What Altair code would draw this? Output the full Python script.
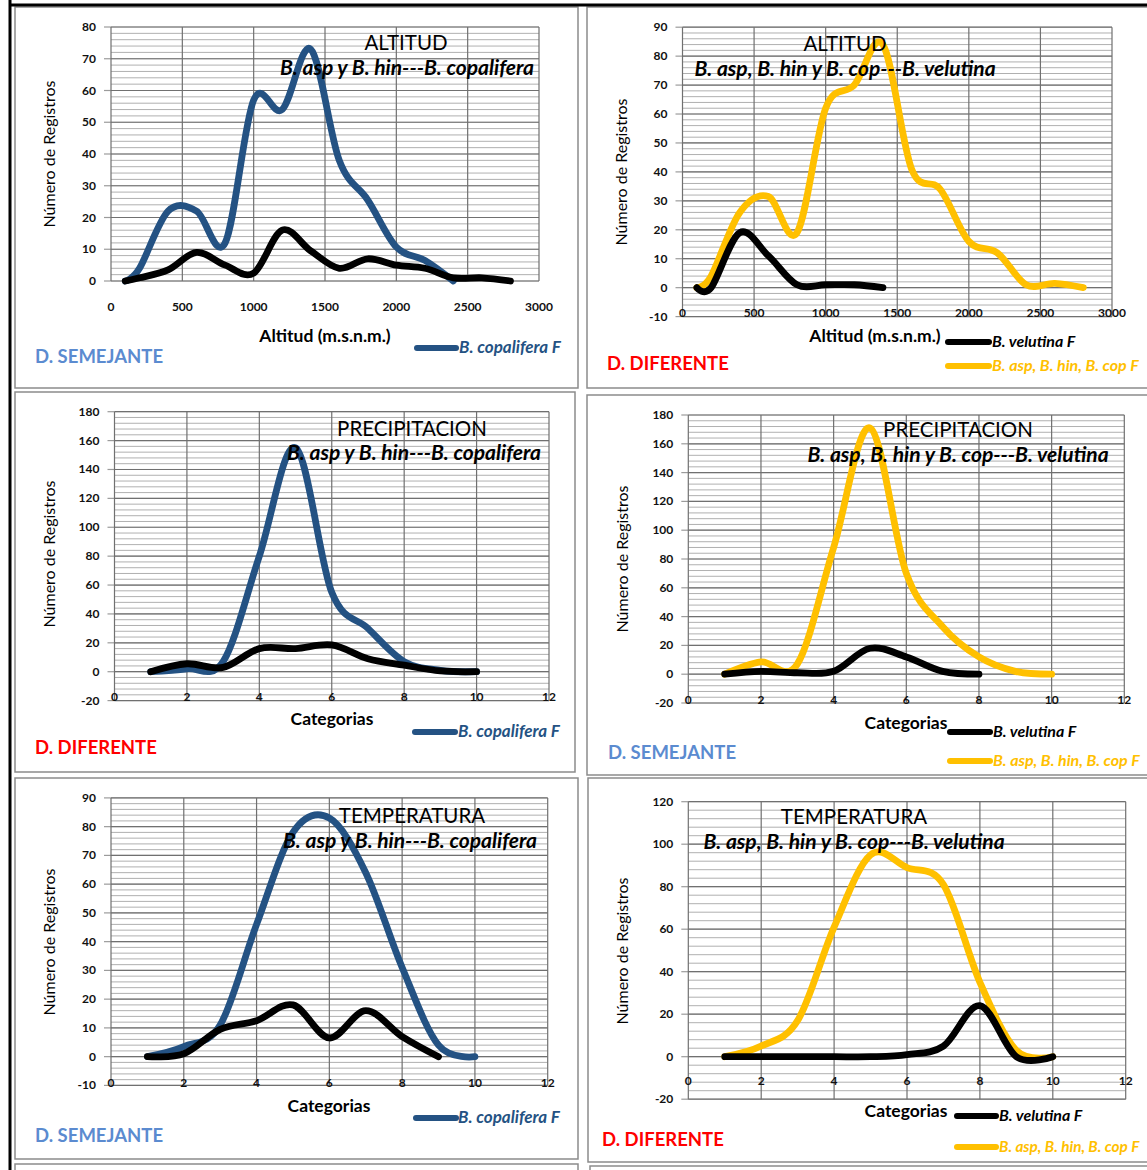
import altair as alt
import pandas as pd

# ---------------- data ----------------
alt_x = [100, 200, 400, 600, 800, 1000, 1200, 1400, 1600, 1800, 2000, 2200, 2400, 2600, 2800]
cat_x = [1, 2, 3, 4, 5, 6, 7, 8, 9, 10]

# ALTITUD  (B. asp y B. hin --- B. copalifera)
p1_cop = [0, 4, 22, 22, 12, 57, 54, 73, 38, 25.5, 10.7, 6.5, 0]          # 100..2400
p1_asp = [0, 1, 3.5, 9, 5, 2.5, 16, 9.5, 4, 7, 5, 4, 1, 1, 0]            # 100..2800
# ALTITUD  (B. asp, B. hin y B. cop --- B. velutina)
p2_all = [0, 4, 26, 31.5, 19, 62, 70, 84, 41, 34, 16, 12, 1, 1.5, 0]     # 100..2800
p2_vel = [0, 0, 19, 11, 1, 1, 1, 0]                                      # 100..1400
# PRECIPITACION
p3_cop = [0, 2, 7, 80, 155, 55, 30, 7, 1, 0]
p3_asp = [0, 5.5, 3, 16, 16, 18.5, 9, 4.5, 0.5, 0]
p4_all = [0, 8.5, 7, 88, 171, 70, 33, 12, 2, 0]
p4_vel = [0, 2, 1, 2, 18, 12, 2, 0]                                      # 1..8
# TEMPERATURA
p5_cop = [0, 3.5, 11, 46, 78, 83, 64, 31, 4, 0]
p5_asp = [0, 1, 9.5, 12.5, 18, 6.5, 16, 7, 0]                            # 1..9
p6_all = [0, 5, 17, 61, 95, 89, 81, 35, 3, 0]
p6_vel = [0, 0, 0, 0, 0, 1, 5, 24, 0, 0]

alt_ticks = [0, 500, 1000, 1500, 2000, 2500, 3000]
cat_ticks = [0, 2, 4, 6, 8, 10, 12]
y_p1 = [0, 10, 20, 30, 40, 50, 60, 70, 80]
y_p2 = [-10, 0, 10, 20, 30, 40, 50, 60, 70, 80, 90]
y_p3 = [-20, 0, 20, 40, 60, 80, 100, 120, 140, 160, 180]
y_p5 = [-10, 0, 10, 20, 30, 40, 50, 60, 70, 80, 90]
y_p6 = [-20, 0, 20, 40, 60, 80, 100, 120]

BLUE = "#245283"
YELLOW = "#FFC000"
BLACK = "#000000"
FONT = "Lato"
ONE = pd.DataFrame({"a": [0]})


def panel(xticks, yticks, xpx, ypx, label_y, series):
    xdom = [xticks[0], xticks[-1]]
    ydom = [yticks[0], yticks[-1]]
    xs = alt.Scale(domain=xdom, range=xpx, nice=False, zero=False)
    ys = alt.Scale(domain=ydom, range=ypx, nice=False, zero=False)
    step = yticks[1] - yticks[0]
    minor_vals = [yticks[0] + step * k / 5 for k in range(5 * (len(yticks) - 1) + 1)]
    minor = pd.DataFrame({"v": minor_vals, "x0": xdom[0], "x1": xdom[1]})
    hmaj = pd.DataFrame({"v": yticks, "x0": xdom[0], "x1": xdom[1],
                         "lab": [str(t) for t in yticks]})
    vmaj = pd.DataFrame({"v": xticks, "y0": ydom[0], "y1": ydom[1],
                         "lab": [str(t) for t in xticks]})

    X = lambda f: alt.X(f, scale=xs, axis=None)
    Y = lambda f: alt.Y(f, scale=ys, axis=None)

    layers = [
        alt.Chart(minor).mark_rule(color="#9c9c9c", strokeWidth=0.8).encode(
            x=X("x0:Q"), x2="x1:Q", y=Y("v:Q")),
        alt.Chart(hmaj).mark_rule(color="#707070", strokeWidth=1.2).encode(
            x=X("x0:Q"), x2="x1:Q", y=Y("v:Q")),
        alt.Chart(vmaj).mark_rule(color="#707070", strokeWidth=1.2).encode(
            x=X("v:Q"), y=Y("y0:Q"), y2="y1:Q"),
        # y tick marks
        alt.Chart(hmaj).mark_tick(orient="horizontal", size=7, thickness=1.2,
                                  color="#707070", xOffset=-3.5).encode(
            x=X("x0:Q"), y=Y("v:Q")),
        # y tick labels
        alt.Chart(hmaj).mark_text(align="right", baseline="middle", dx=-15, font=FONT,
                                  fontWeight="bold", fontSize=12, color="#111111").encode(
            x=X("x0:Q"), y=Y("v:Q"), text="lab:N"),
        # x tick labels
        alt.Chart(vmaj).mark_text(align="center", baseline="middle", font=FONT,
                                  fontWeight="bold", fontSize=12, color="#111111").encode(
            x=X("v:Q"), y=alt.value(label_y), text="lab:N"),
    ]
    for xs_vals, ys_vals, color in series:
        df = pd.DataFrame({"x": xs_vals[:len(ys_vals)], "y": ys_vals})
        layers.append(
            alt.Chart(df).mark_line(color=color, strokeWidth=6.8, interpolate="cardinal",
                                    strokeCap="round", strokeJoin="round").encode(
                x=X("x:Q"), y=Y("y:Q")))
    return alt.layer(*layers)


def text(t, x, y, size, color=BLACK, weight="normal", style="normal", align="center", angle=0):
    kw = dict(text=t, font=FONT, fontSize=size, fontWeight=weight, fontStyle=style,
              color=color, align=align, baseline="middle")
    if angle:
        kw["angle"] = angle
    return alt.Chart(ONE).mark_text(**kw).encode(x=alt.value(x), y=alt.value(y))


def frame(x1, y1, x2, y2, color="#8c8c8c", w=1.5):
    return alt.Chart(ONE).mark_rect(fillOpacity=0, stroke=color, strokeWidth=w).encode(
        x=alt.value(x1), x2=alt.value(x2), y=alt.value(y1), y2=alt.value(y2))


def swatch(x1, x2, y, color):
    return alt.Chart(ONE).mark_rule(color=color, strokeWidth=6, strokeCap="round").encode(
        x=alt.value(x1), x2=alt.value(x2), y=alt.value(y))


frames = [
    frame(15, 7, 578, 388), frame(587, 7, 1152, 388),
    frame(15, 392, 575, 772), frame(587, 395, 1152, 775),
    frame(15, 778, 578, 1159), frame(588, 778, 1152, 1162),
    frame(15, 1164, 578, 1200), frame(590, 1166, 1152, 1200),
    alt.Chart(ONE).mark_rule(color=BLACK, strokeWidth=3).encode(
        x=alt.value(10), y=alt.value(0), y2=alt.value(1170)),
    alt.Chart(ONE).mark_rule(color=BLACK, strokeWidth=3).encode(
        x=alt.value(10), x2=alt.value(1147), y=alt.value(5)),
]

panels = [
    panel(alt_ticks, y_p1, [111, 539], [281, 27], 307,
          [(alt_x, p1_cop, BLUE), (alt_x, p1_asp, BLACK)]),
    panel(alt_ticks, y_p2, [682.5, 1112], [316.6, 27.2], 313,
          [(alt_x, p2_all, YELLOW), (alt_x, p2_vel, BLACK)]),
    panel(cat_ticks, y_p3, [114.5, 549], [700.6, 411.7], 697,
          [(cat_x, p3_cop, BLUE), (cat_x, p3_asp, BLACK)]),
    panel(cat_ticks, y_p3, [688.3, 1124.3], [703, 415], 700,
          [(cat_x, p4_all, YELLOW), (cat_x, p4_vel, BLACK)]),
    panel(cat_ticks, y_p5, [111, 547.7], [1085.4, 797.9], 1083,
          [(cat_x, p5_cop, BLUE), (cat_x, p5_asp, BLACK)]),
    panel(cat_ticks, y_p6, [688.3, 1125.7], [1099.2, 801.7], 1081,
          [(cat_x, p6_all, YELLOW), (cat_x, p6_vel, BLACK)]),
]

SEM = "#5b8bd0"
DIF = "#ff0000"
sub_l = "B. asp y B. hin---B. copalifera"
sub_r = "B. asp, B. hin y B. cop---B. velutina"
ytitle = "Número de Registros"
TS, SS, YS, XS, DS, LS = 20.5, 21, 16, 17.5, 18.5, 16
annots = [
    # panel 1
    text("ALTITUD", 406, 44, TS), text(sub_l, 407, 69, SS, weight="bold", style="italic"),
    text(ytitle, 50, 154, YS, angle=270),
    text("Altitud (m.s.n.m.)", 325, 337, XS, weight="bold"),
    text("D. SEMEJANTE", 35, 357, DS, color=SEM, weight="bold", align="left"),
    swatch(417, 456, 348, BLUE),
    text("B. copalifera F", 459, 348, 17, color=BLUE, weight="bold", style="italic", align="left"),
    # panel 2
    text("ALTITUD", 845, 45, TS), text(sub_r, 845, 70, SS, weight="bold", style="italic"),
    text(ytitle, 622, 172, YS, angle=270),
    text("Altitud (m.s.n.m.)", 875, 337, XS, weight="bold"),
    text("D. DIFERENTE", 607, 364, DS, color=DIF, weight="bold", align="left"),
    swatch(948, 989, 342, BLACK),
    text("B. velutina F", 992, 342, LS, color=BLACK, weight="bold", style="italic", align="left"),
    swatch(948, 989, 366, YELLOW),
    text("B. asp, B. hin, B. cop F", 992, 366, LS, color=YELLOW, weight="bold", style="italic", align="left"),
    # panel 3
    text("PRECIPITACION", 412, 430, TS), text(sub_l, 414, 454, SS, weight="bold", style="italic"),
    text(ytitle, 50, 554, YS, angle=270),
    text("Categorias", 332, 720, XS, weight="bold"),
    text("D. DIFERENTE", 35, 748, DS, color=DIF, weight="bold", align="left"),
    swatch(415, 455, 732, BLUE),
    text("B. copalifera F", 458, 732, 17, color=BLUE, weight="bold", style="italic", align="left"),
    # panel 4
    text("PRECIPITACION", 958, 431, TS), text(sub_r, 958, 456, SS, weight="bold", style="italic"),
    text(ytitle, 623, 559, YS, angle=270),
    text("Categorias", 906, 724, XS, weight="bold"),
    text("D. SEMEJANTE", 608, 753, DS, color=SEM, weight="bold", align="left"),
    swatch(950, 990, 732, BLACK),
    text("B. velutina F", 993, 732, LS, color=BLACK, weight="bold", style="italic", align="left"),
    swatch(950, 990, 761, YELLOW),
    text("B. asp, B. hin, B. cop F", 993, 761, LS, color=YELLOW, weight="bold", style="italic", align="left"),
    # panel 5
    text("TEMPERATURA", 412, 817, TS), text(sub_l, 410, 842, SS, weight="bold", style="italic"),
    text(ytitle, 50, 942, YS, angle=270),
    text("Categorias", 329, 1107, XS, weight="bold"),
    text("D. SEMEJANTE", 35, 1136, DS, color=SEM, weight="bold", align="left"),
    swatch(416, 456, 1118, BLUE),
    text("B. copalifera F", 458, 1118, 17, color=BLUE, weight="bold", style="italic", align="left"),
    # panel 6
    text("TEMPERATURA", 854, 818, TS), text(sub_r, 854, 843, SS, weight="bold", style="italic"),
    text(ytitle, 623, 951, YS, angle=270),
    text("Categorias", 906, 1112, XS, weight="bold"),
    text("D. DIFERENTE", 602, 1140, DS, color=DIF, weight="bold", align="left"),
    swatch(957, 996, 1116, BLACK),
    text("B. velutina F", 999, 1116, LS, color=BLACK, weight="bold", style="italic", align="left"),
    swatch(957, 996, 1147, YELLOW),
    text("B. asp, B. hin, B. cop F", 999, 1147, 15.3, color=YELLOW, weight="bold", style="italic", align="left"),
]

chart = alt.layer(*frames, *panels, *annots).resolve_scale(
    x="independent", y="independent"
).properties(
    width=1147, height=1170, padding=0, background="white",
    autosize=alt.AutoSizeParams(type="none"),
).configure_view(stroke=None)

chart.save("out.html", embed_options={"renderer": "svg", "actions": False})
